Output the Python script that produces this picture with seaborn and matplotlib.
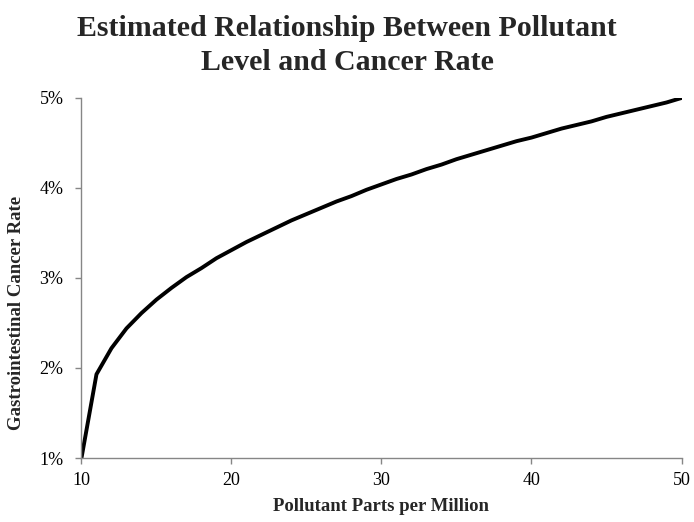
import matplotlib
matplotlib.use("Agg")
import matplotlib.pyplot as plt
import seaborn as sns
import pandas as pd
from matplotlib.ticker import FuncFormatter

# Pollutant concentration (ppm) and estimated gastrointestinal cancer rate (%)
ppm = list(range(10, 51))
cancer_rate = [
    1.00, 1.93, 2.22, 2.44, 2.61, 2.76, 2.89, 3.01, 3.11, 3.22,
    3.31, 3.40, 3.48, 3.56, 3.64, 3.71, 3.78, 3.85, 3.91, 3.98,
    4.04, 4.10, 4.15, 4.21, 4.26, 4.32, 4.37, 4.42, 4.47, 4.52,
    4.56, 4.61, 4.66, 4.70, 4.74, 4.79, 4.83, 4.87, 4.91, 4.95,
    5.00,
]
x_ticks = [10, 20, 30, 40, 50]
y_ticks = [1, 2, 3, 4, 5]

df = pd.DataFrame({"ppm": ppm, "rate": cancer_rate})

sns.set_theme(style="white")
plt.rcParams["font.family"] = ["Liberation Serif", "DejaVu Serif"]

fig = plt.figure(figsize=(6.94, 5.22), dpi=100)
ax = fig.add_axes([0.1174, 0.1226, 0.8646, 0.6897])

sns.lineplot(data=df, x="ppm", y="rate", ax=ax, color="black", linewidth=2.8)

ax.set_xlim(10, 50)
ax.set_ylim(1, 5)
ax.set_xticks(x_ticks)
ax.set_yticks(y_ticks)
ax.yaxis.set_major_formatter(FuncFormatter(lambda v, _: f"{v:.0f}%"))

grey = "#868686"
for side in ("top", "right"):
    ax.spines[side].set_visible(False)
for side in ("left", "bottom"):
    ax.spines[side].set_color(grey)
    ax.spines[side].set_linewidth(1.0)
ax.tick_params(axis="both", which="major", direction="out", length=4,
               width=1.0, color=grey, labelsize=13, labelcolor="black")
ax.tick_params(axis="x", pad=6)
ax.tick_params(axis="y", pad=9)
ax.tick_params(axis="both", bottom=True, left=True)

ax.set_xlabel("Pollutant Parts per Million", fontsize=13.5, fontweight="bold")
ax.xaxis.set_label_coords(0.5, -0.112)
ax.set_ylabel("Gastrointestinal Cancer Rate", fontsize=13.5, fontweight="bold")
ax.yaxis.set_label_coords(-0.094, 0.403)

fig.suptitle("Estimated Relationship Between Pollutant\nLevel and Cancer Rate",
             fontsize=21.5, fontweight="bold", y=0.972, linespacing=1.35)

fig.savefig("out.png", dpi=100)
